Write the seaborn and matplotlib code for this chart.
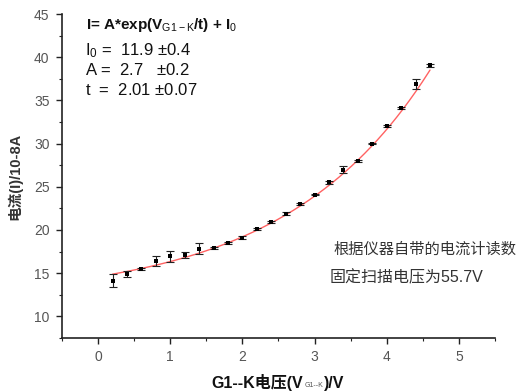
import numpy as np
import pandas as pd
import matplotlib
matplotlib.use("Agg")
import matplotlib.pyplot as plt
import seaborn as sns

# Measured grid current vs G1-K voltage
voltage = [0.2, 0.4, 0.6, 0.8, 1.0, 1.2, 1.4, 1.6, 1.8, 2.0, 2.2, 2.4,
           2.6, 2.8, 3.0, 3.2, 3.4, 3.6, 3.8, 4.0, 4.2, 4.4, 4.6]
current = [14.1, 14.9, 15.5, 16.4, 16.95, 17.1, 17.85, 17.95, 18.45, 19.1, 20.1, 20.9,
           21.9, 23.0, 24.1, 25.5, 27.0, 28.0, 30.0, 32.05, 34.1, 36.95, 39.05]
current_err = [0.75, 0.3, 0.1, 0.6, 0.65, 0.3, 0.6, 0.1, 0.1, 0.2, 0.1, 0.1,
               0.15, 0.15, 0.1, 0.2, 0.4, 0.1, 0.05, 0.1, 0.1, 0.58, 0.2]

# Exponential fit parameters: I = A*exp(V/t) + I0
fit_I0 = 11.9
fit_A = 2.7
fit_t = 2.01

x_ticks = [0, 1, 2, 3, 4, 5]
y_ticks = [10, 15, 20, 25, 30, 35, 40, 45]

sns.set_style("ticks")
plt.rcParams['font.family'] = ['Liberation Sans', 'Noto Sans CJK SC']
plt.rcParams['mathtext.fontset'] = 'custom'
plt.rcParams['mathtext.rm'] = 'Liberation Sans'
plt.rcParams['mathtext.it'] = 'Liberation Sans'
plt.rcParams['mathtext.bf'] = 'Liberation Sans:bold'

fig = plt.figure(figsize=(5.21, 3.92), dpi=100)
ax = fig.add_axes([0.119, 0.138, 0.831, 0.826])

df = pd.DataFrame({"V": voltage, "I": current, "err": current_err})

# fitted curve
vfit = np.linspace(min(voltage), max(voltage), 200)
fit_df = pd.DataFrame({"V": vfit, "I": fit_A * np.exp(vfit / fit_t) + fit_I0})
sns.lineplot(data=fit_df, x="V", y="I", ax=ax, color="#ff6262", lw=1.0, zorder=2)

# measurements with error bars
ax.errorbar(df["V"], df["I"], yerr=df["err"], fmt="none", ecolor="#222222",
            elinewidth=0.8, capsize=3, capthick=0.8, zorder=3)
sns.scatterplot(data=df, x="V", y="I", ax=ax, marker="s", s=5, color="black",
                edgecolor="black", linewidth=0, zorder=4)

ax.set_xlim(-0.5, 5.5)
ax.set_ylim(7.5, 45)
ax.set_xticks(x_ticks)
ax.set_yticks(y_ticks)
ax.set_xticks(np.arange(-0.5, 5.51, 0.5), minor=True)
ax.set_yticks(np.arange(7.5, 45.1, 2.5), minor=True)
ax.tick_params(axis="both", which="major", length=4, width=1, colors="#222222",
               labelcolor="#555555", labelsize=10, direction="out", pad=5)
ax.tick_params(axis="both", which="minor", length=2.5, width=0.8, colors="#222222",
               direction="out")
sns.despine(ax=ax)
for s in ("left", "bottom"):
    ax.spines[s].set_color("#222222")
    ax.spines[s].set_linewidth(1.2)
ax.set_xlabel("")
ax.set_ylabel("电流(I)/10-8A", fontsize=10.5, fontweight="bold", color="#333333",
              labelpad=8)

# x-axis title assembled from pieces so the subscript stays small
xl1 = ax.annotate("G1--K电压(V", xy=(0.346, -0.155), xycoords="axes fraction",
                  fontsize=11.5, fontweight="bold", color="#111111",
                  ha="left", va="baseline", annotation_clip=False)
xl2 = ax.annotate("G1--K", xy=(1.0, 0.0), xycoords=xl1, xytext=(1, 1.5),
                  textcoords="offset points", fontsize=5, color="#555555",
                  ha="left", va="bottom", annotation_clip=False)
ax.annotate(")/V", xy=(1.0, 0.0), xycoords=xl2, xytext=(0.5, -1.5),
            textcoords="offset points", fontsize=11.5, fontweight="bold",
            color="#111111", ha="left", va="bottom", annotation_clip=False)

# fit equation and parameters
ax.text(0.055, 0.995, r"I= A*exp(V$_{\mathrm{G1-K}}$/t) + I$_0$", transform=ax.transAxes,
        fontsize=11, fontweight="bold", va="top", ha="left", color="#111111")
param_lines = [r"I$_0$ =  11.9 $\pm$0.4", r"A =  2.7   $\pm$0.2", r"t  =  2.01 $\pm$0.07"]
for i, line in enumerate(param_lines):
    ax.text(0.052, 0.915 - i * 0.062, line, transform=ax.transAxes, fontsize=12,
            va="top", ha="left", color="#111111")

ax.text(0.626, 0.272, "根据仪器自带的电流计读数", transform=ax.transAxes,
        fontsize=11, color="#333333", ha="left", va="center")
ax.text(0.619, 0.188, "固定扫描电压为55.7V", transform=ax.transAxes,
        fontsize=11.5, color="#333333", ha="left", va="center")

ax.set_facecolor("white")
fig.patch.set_facecolor("white")
fig.savefig("out.png", dpi=100)
